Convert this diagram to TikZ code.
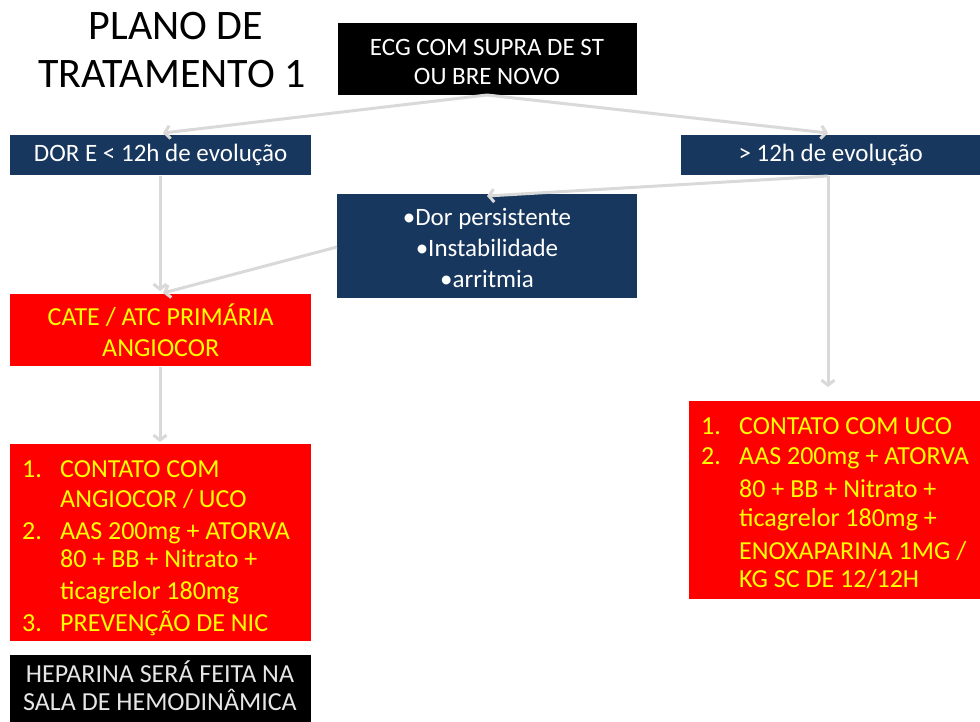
\documentclass[tikz,border=0pt]{standalone}
\usepackage{fontspec}
\setmainfont{Carlito}
\usetikzlibrary{arrows.meta}
\definecolor{navy}{HTML}{17375E}
\definecolor{arrgray}{HTML}{D9D9D9}
\definecolor{redbox}{HTML}{FF0000}
\definecolor{yel}{HTML}{FFFF00}
\definecolor{hep}{HTML}{E6E6E6}
\tikzset{
  box/.style={inner sep=0pt, anchor=north west, align=center},
  navybox/.style={box, fill=navy, text=white, font=\fontsize{25}{31}\selectfont},
  redbx/.style={box, fill=redbox, text=yel, font=\fontsize{26}{31}\selectfont},
  blackbox/.style={box, fill=black},
  lst/.style={inner sep=0pt, anchor=base west, text=yel, font=\fontsize{26}{31}\selectfont},
  ttl/.style={inner sep=0pt, anchor=base, font=\fontsize{42}{48}\selectfont},
  arr/.style={draw=arrgray, line width=3pt, -{Straight Barb[length=5pt,width=13pt]}},
}
\begin{document}
\begin{tikzpicture}[x=1pt,y=-1pt]
\useasboundingbox (0,0) rectangle (980,722);
% title
\node[ttl] (title1) at (176,40) {PLANO DE};
\node[ttl] (title2) at (172,88) {TRATAMENTO 1};
% boxes
\node[blackbox, minimum width=299pt, minimum height=72pt] (ecg) at (338,23) {};
\node[inner sep=0pt, text=white, font=\fontsize{25}{29}\selectfont, align=center] (ecgtxt) at (487,62) {ECG COM SUPRA DE ST\\OU BRE NOVO};
\node[navybox, minimum width=301pt, minimum height=40pt] (dor) at (10,135) {DOR E \textless{} 12h de evolução};
\node[navybox, minimum width=299pt, minimum height=40pt] (gt) at (681,135) {\textgreater{} 12h de evolução};
\node[navybox, minimum width=300pt, minimum height=104pt] (mid) at (337,194) {};
\node[inner sep=0pt, text=white, font=\fontsize{25}{31}\selectfont, align=center] (midtxt) at (487,248) {•Dor persistente\\•Instabilidade\\•arritmia};
\node[redbx, minimum width=301pt, minimum height=72pt] (cate) at (10,294) {CATE / ATC PRIMÁRIA\\ANGIOCOR};
\node[box, fill=redbox, minimum width=301pt, minimum height=197pt] (lbox) at (10,444) {};
\node[box, fill=redbox, minimum width=291pt, minimum height=198pt] (rbox) at (689,401) {};
\node[blackbox, minimum width=301pt, minimum height=67pt] (hepa) at (10,655) {};
\node[inner sep=0pt, text=hep, font=\fontsize{26}{28}\selectfont, align=center] (heptxt) at (160,686) {HEPARINA SERÁ FEITA NA\\SALA DE HEMODINÂMICA};
% left list
\node[lst] (l1n) at (22,477) {1.};
\node[lst] (l1a) at (60,477) {CONTATO COM};
\node[lst] (l1b) at (60,507) {ANGIOCOR / UCO};
\node[lst] (l2n) at (22,539) {2.};
\node[lst] (l2a) at (60,539) {AAS 200mg + ATORVA};
\node[lst] (l2b) at (60,567) {80 + BB + Nitrato +};
\node[lst] (l2c) at (60,599) {ticagrelor 180mg};
\node[lst] (l3n) at (22,631) {3.};
\node[lst] (l3a) at (60,631) {PREVENÇÃO DE NIC};
% right list
\node[lst] (r1n) at (701,434) {1.};
\node[lst] (r1a) at (739,434) {CONTATO COM UCO};
\node[lst] (r2n) at (701,464) {2.};
\node[lst] (r2a) at (739,464) {AAS 200mg + ATORVA};
\node[lst] (r2b) at (739,497) {80 + BB + Nitrato +};
\node[lst] (r2c) at (739,526) {ticagrelor 180mg +};
\node[lst] (r2d) at (739,559) {ENOXAPARINA 1MG /};
\node[lst] (r2e) at (739,587) {KG SC DE 12/12H};
% connectors
\coordinate (ecgb) at (487,95);
\coordinate (dort) at (163,133);
\coordinate (gtt) at (828,133);
\coordinate (gtb) at (828,176);
\coordinate (midt) at (487,196);
\coordinate (midl) at (337,247);
\coordinate (catet) at (163,293);
\coordinate (dorb) at (160,176);
\coordinate (catetl) at (160,291);
\coordinate (rend) at (828,387);
\coordinate (cateb) at (160,367);
\coordinate (lboxt) at (160,442);
\draw[arr] (ecgb) -- (dort);
\draw[arr] (ecgb) -- (gtt);
\draw[arr] (dorb) -- (catetl);
\draw[arr] (gtb) -- (midt);
\draw[arr] (midl) -- (catet);
\draw[arr] (gtb) -- (rend);
\draw[arr] (cateb) -- (lboxt);
\end{tikzpicture}
\end{document}
